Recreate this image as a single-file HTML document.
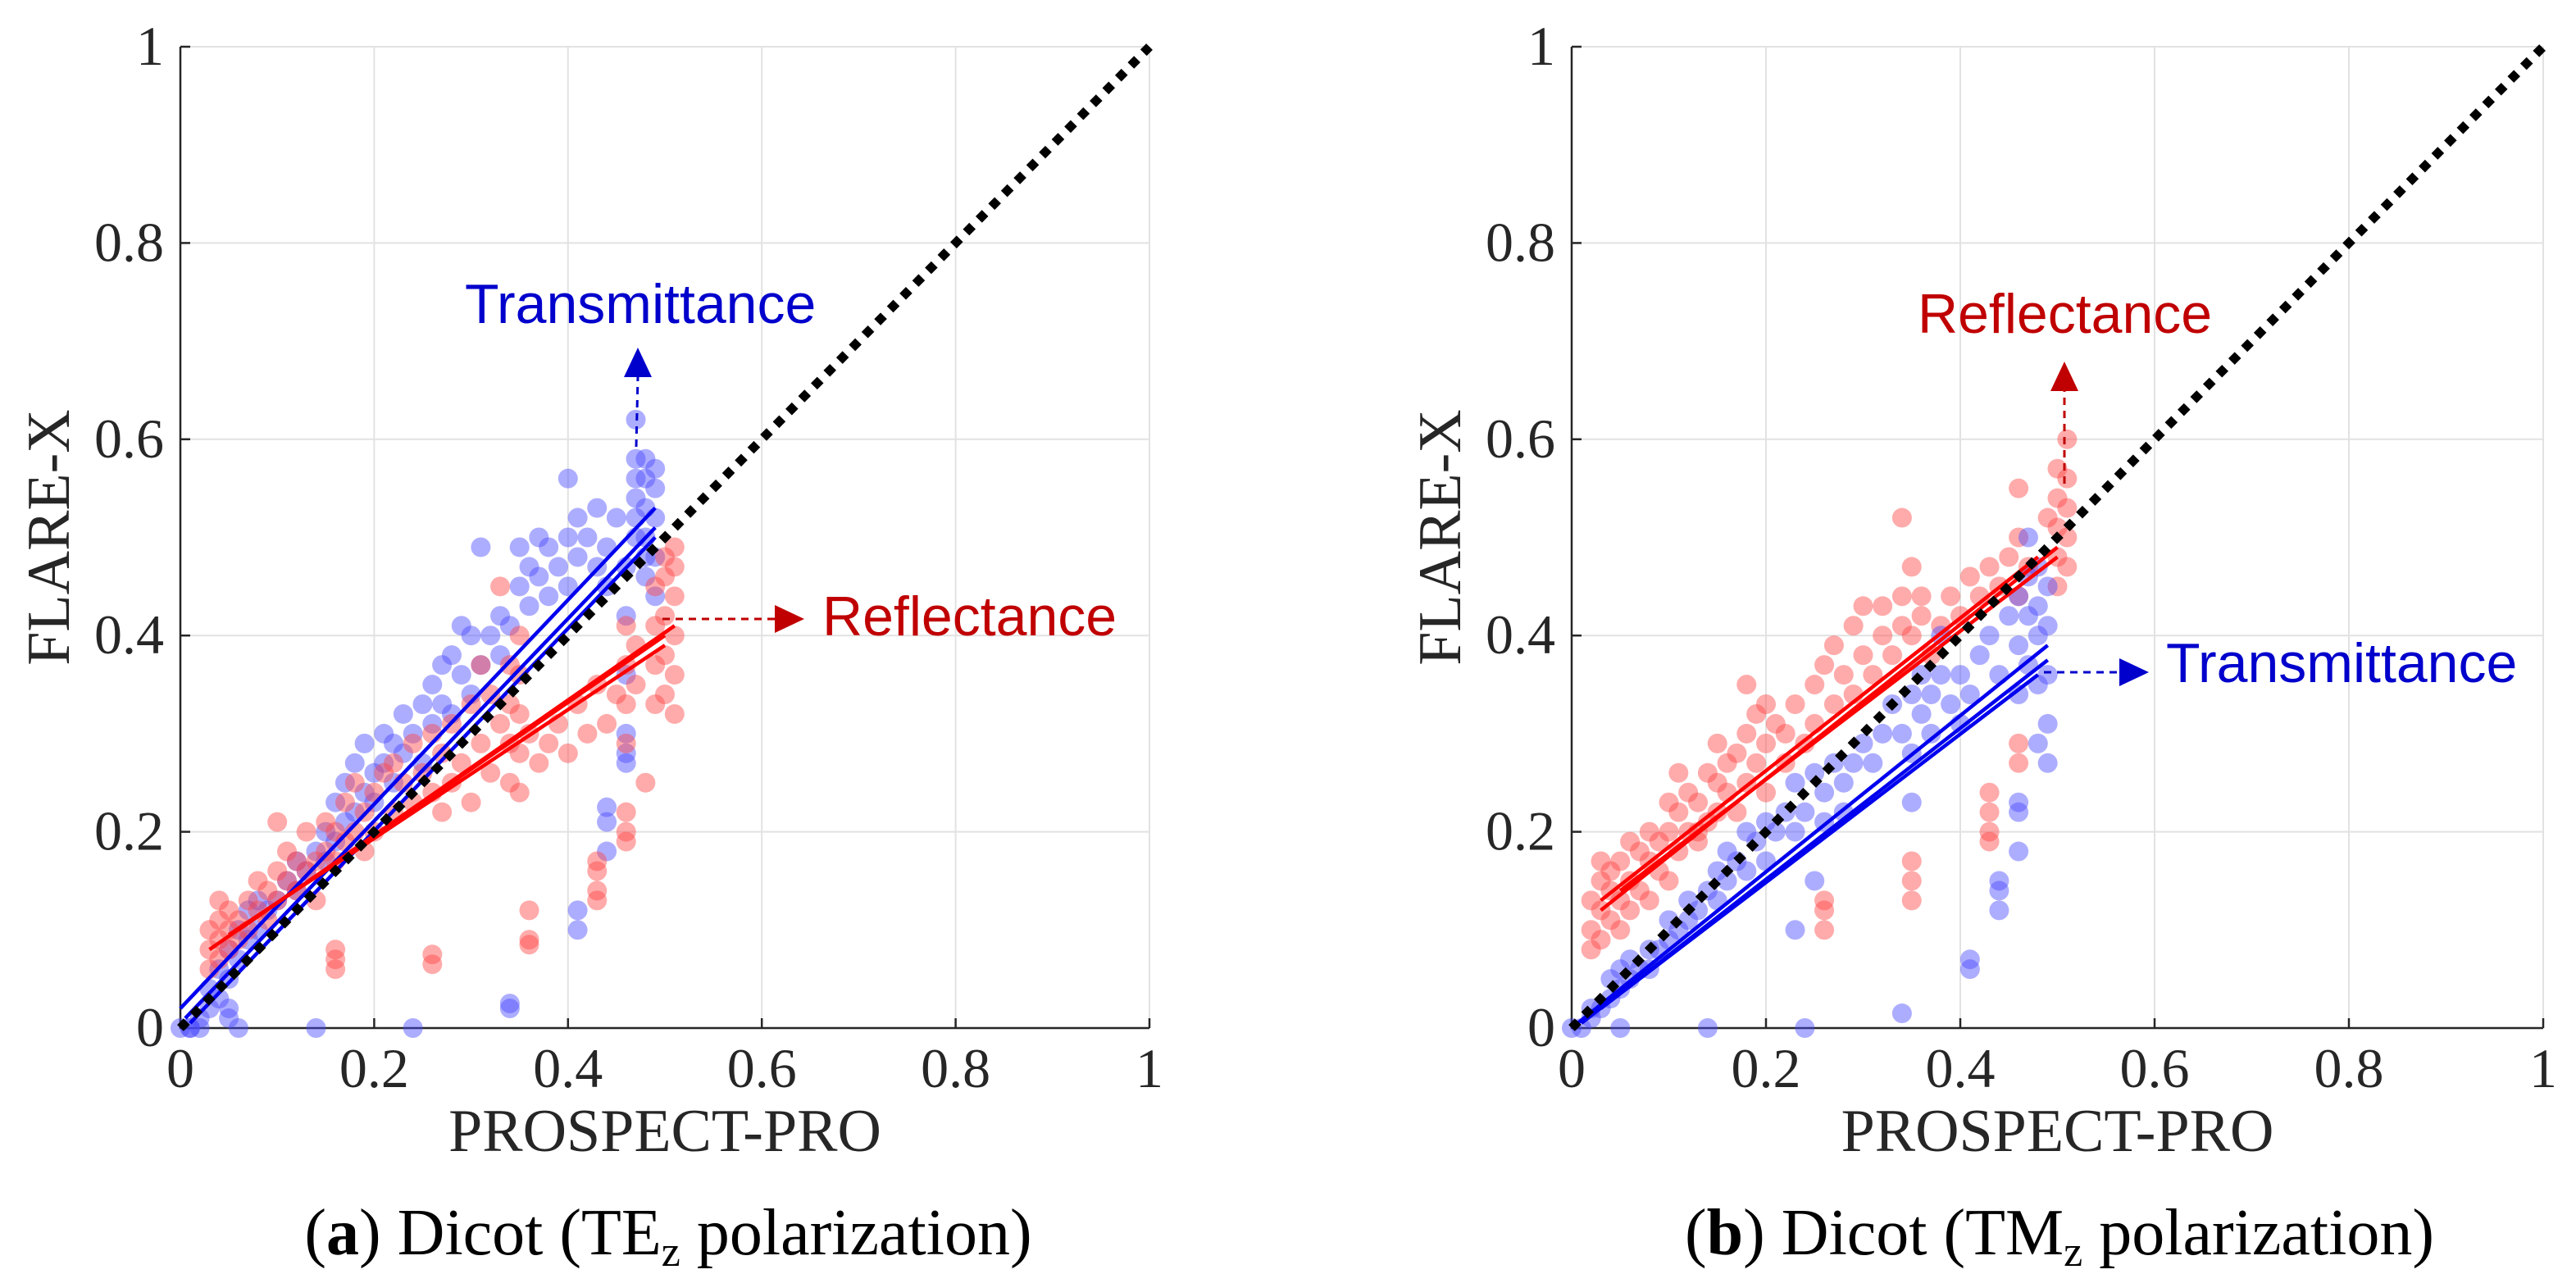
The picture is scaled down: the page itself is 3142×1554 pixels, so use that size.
<!DOCTYPE html>
<html><head><meta charset="utf-8">
<style>
body{margin:0;background:#fff;}
svg{display:block;}
</style></head>
<body>
<svg id="fig" width="3142" height="1554" viewBox="0 0 3142 1554" xmlns="http://www.w3.org/2000/svg">
<rect width="3142" height="1554" fill="#fff"/>
<g id="pa"></g>
<g id="pb"></g>
</svg>
<script>
const ticks=[0,0.2,0.4,0.6,0.8,1];
const tickLabels=["0","0.2","0.4","0.6","0.8","1"];
// Panel a (TEz) transmittance (blue)
const aTx=[0.01,0.02,0.02,0.03,0.03,0.04,0.04,0.05,0.05,0.06,0.06,0.07,0.07,0.08,0.08,0.09,0.05,0.05,0.1,0.11,0.12,0.12,0.13,0.14,0.15,0.15,0.16,0.16,0.17,0.17,0.18,0.18,0.19,0.19,0.2,0.2,0.21,0.21,0.22,0.22,0.23,0.23,0.24,0.25,0.25,0.26,0.26,0.27,0.27,0.28,0.28,0.29,0.3,0.3,0.31,0.29,0.31,0.32,0.33,0.33,0.34,0.35,0.35,0.36,0.36,0.37,0.37,0.38,0.38,0.39,0.4,0.4,0.4,0.41,0.41,0.42,0.43,0.43,0.44,0.44,0.45,0.46,0.46,0.46,0.46,0.47,0.47,0.47,0.47,0.48,0.48,0.48,0.48,0.48,0.49,0.49,0.49,0.49,0.49,0.47,0.48,0.47,0.06,0.14,0.24,0.34,0.34,0.41,0.41,0.44,0.44,0.44,0.46,0.46,0.0,0.01];
const aTy=[0.0,0.0,0.01,0.02,0.04,0.03,0.06,0.05,0.08,0.07,0.1,0.09,0.12,0.1,0.13,0.12,0.02,0.01,0.13,0.15,0.14,0.17,0.16,0.18,0.17,0.2,0.19,0.23,0.21,0.25,0.22,0.27,0.24,0.29,0.26,0.23,0.27,0.3,0.25,0.29,0.28,0.32,0.3,0.27,0.33,0.31,0.35,0.33,0.37,0.32,0.38,0.36,0.34,0.4,0.49,0.41,0.37,0.4,0.38,0.42,0.41,0.45,0.49,0.43,0.47,0.46,0.5,0.44,0.49,0.47,0.45,0.5,0.56,0.48,0.52,0.5,0.47,0.53,0.49,0.45,0.52,0.3,0.36,0.42,0.47,0.5,0.54,0.58,0.62,0.46,0.5,0.53,0.56,0.58,0.44,0.48,0.52,0.55,0.57,0.52,0.48,0.56,0.0,0.0,0.0,0.025,0.02,0.1,0.12,0.18,0.21,0.225,0.27,0.28,0.0,0.0];
// Panel a reflectance (red)
const aRx=[0.03,0.03,0.03,0.04,0.04,0.04,0.04,0.05,0.05,0.05,0.06,0.06,0.07,0.07,0.08,0.08,0.09,0.09,0.1,0.1,0.1,0.11,0.11,0.12,0.12,0.13,0.13,0.14,0.14,0.15,0.15,0.16,0.16,0.17,0.17,0.18,0.18,0.19,0.19,0.2,0.2,0.21,0.22,0.22,0.23,0.24,0.24,0.25,0.26,0.26,0.27,0.27,0.28,0.28,0.29,0.3,0.3,0.31,0.31,0.32,0.32,0.33,0.33,0.34,0.34,0.34,0.34,0.35,0.35,0.35,0.35,0.35,0.36,0.37,0.38,0.39,0.4,0.41,0.42,0.43,0.44,0.45,0.46,0.46,0.46,0.46,0.47,0.47,0.48,0.49,0.49,0.49,0.49,0.5,0.5,0.5,0.5,0.5,0.51,0.51,0.51,0.51,0.51,0.51,0.16,0.16,0.16,0.26,0.26,0.36,0.36,0.36,0.43,0.43,0.43,0.43,0.46,0.46,0.46];
const aRy=[0.06,0.08,0.1,0.07,0.09,0.11,0.13,0.08,0.1,0.12,0.09,0.11,0.1,0.13,0.12,0.15,0.11,0.14,0.13,0.16,0.21,0.15,0.18,0.14,0.17,0.16,0.2,0.17,0.13,0.18,0.21,0.17,0.2,0.19,0.23,0.2,0.25,0.22,0.18,0.24,0.2,0.26,0.22,0.27,0.25,0.23,0.29,0.26,0.24,0.3,0.28,0.22,0.25,0.31,0.27,0.23,0.33,0.29,0.37,0.26,0.34,0.31,0.45,0.25,0.29,0.33,0.37,0.24,0.28,0.32,0.36,0.4,0.3,0.27,0.29,0.31,0.28,0.33,0.3,0.35,0.31,0.34,0.29,0.33,0.37,0.41,0.35,0.39,0.25,0.33,0.37,0.41,0.45,0.34,0.38,0.42,0.46,0.48,0.32,0.36,0.4,0.44,0.47,0.49,0.06,0.07,0.08,0.065,0.075,0.085,0.09,0.12,0.13,0.14,0.16,0.17,0.19,0.2,0.22];
// Panel b (TMz) reflectance (red)
const bRx=[0.02,0.02,0.02,0.03,0.03,0.03,0.03,0.04,0.04,0.04,0.05,0.05,0.05,0.06,0.06,0.06,0.07,0.07,0.08,0.08,0.08,0.09,0.09,0.1,0.1,0.1,0.11,0.11,0.11,0.12,0.12,0.13,0.13,0.14,0.14,0.15,0.15,0.15,0.16,0.16,0.17,0.17,0.18,0.18,0.18,0.19,0.19,0.2,0.2,0.2,0.21,0.22,0.22,0.23,0.24,0.25,0.25,0.26,0.27,0.27,0.28,0.29,0.29,0.3,0.3,0.31,0.32,0.32,0.33,0.34,0.34,0.35,0.35,0.36,0.36,0.34,0.37,0.38,0.39,0.4,0.41,0.42,0.43,0.44,0.45,0.46,0.46,0.46,0.47,0.5,0.5,0.5,0.5,0.5,0.51,0.51,0.51,0.51,0.51,0.49,0.13,0.26,0.26,0.26,0.35,0.35,0.35,0.43,0.43,0.43,0.43,0.46,0.46];
const bRy=[0.08,0.1,0.13,0.09,0.12,0.15,0.17,0.11,0.14,0.16,0.1,0.13,0.17,0.12,0.15,0.19,0.14,0.18,0.13,0.17,0.2,0.16,0.19,0.15,0.2,0.23,0.18,0.22,0.26,0.2,0.24,0.19,0.23,0.21,0.26,0.22,0.25,0.29,0.24,0.27,0.22,0.28,0.25,0.3,0.35,0.27,0.32,0.24,0.29,0.33,0.31,0.27,0.3,0.33,0.29,0.35,0.31,0.37,0.33,0.39,0.36,0.34,0.41,0.38,0.43,0.36,0.4,0.43,0.38,0.41,0.44,0.4,0.47,0.42,0.44,0.52,0.38,0.41,0.44,0.42,0.46,0.44,0.47,0.45,0.48,0.44,0.5,0.55,0.47,0.45,0.48,0.51,0.54,0.57,0.47,0.5,0.53,0.56,0.6,0.52,0.2,0.1,0.12,0.13,0.13,0.15,0.17,0.19,0.2,0.22,0.24,0.27,0.29];
// Panel b transmittance (blue)
const bTx=[0.0,0.01,0.02,0.02,0.03,0.04,0.04,0.05,0.05,0.06,0.06,0.07,0.08,0.08,0.09,0.1,0.1,0.11,0.12,0.12,0.13,0.14,0.15,0.15,0.16,0.16,0.17,0.18,0.18,0.19,0.2,0.2,0.21,0.22,0.23,0.23,0.24,0.25,0.26,0.26,0.27,0.28,0.28,0.29,0.3,0.31,0.32,0.33,0.34,0.35,0.35,0.36,0.36,0.37,0.37,0.38,0.38,0.39,0.4,0.4,0.41,0.42,0.43,0.44,0.45,0.46,0.46,0.46,0.47,0.47,0.47,0.47,0.48,0.48,0.48,0.48,0.49,0.49,0.49,0.49,0.49,0.48,0.35,0.25,0.23,0.05,0.14,0.24,0.34,0.41,0.41,0.44,0.44,0.44,0.46,0.46,0.46];
const bTy=[0.0,0.0,0.01,0.02,0.02,0.03,0.05,0.04,0.06,0.05,0.07,0.06,0.08,0.06,0.08,0.09,0.11,0.1,0.11,0.13,0.12,0.14,0.13,0.16,0.15,0.18,0.17,0.16,0.2,0.19,0.21,0.17,0.2,0.22,0.2,0.25,0.22,0.26,0.24,0.21,0.27,0.22,0.25,0.27,0.29,0.27,0.3,0.33,0.3,0.34,0.28,0.32,0.36,0.34,0.3,0.36,0.4,0.33,0.36,0.31,0.34,0.38,0.4,0.36,0.42,0.34,0.39,0.44,0.37,0.42,0.46,0.5,0.35,0.4,0.43,0.47,0.27,0.31,0.36,0.41,0.45,0.29,0.23,0.15,0.1,0.0,0.0,0.0,0.015,0.06,0.07,0.12,0.14,0.15,0.18,0.22,0.23];
// Regression fits [x0,y0,x1,y1] (main + bounds)
const aTfit=[[0,0.02,0.49,0.53],[0.005,0.01,0.49,0.51],[0.01,0.005,0.49,0.5]];
const aRfit=[[0.03,0.08,0.5,0.4],[0.05,0.095,0.5,0.39],[0.06,0.1,0.51,0.41]];
const bRfit=[[0.03,0.12,0.5,0.49],[0.03,0.13,0.48,0.48],[0.05,0.14,0.5,0.48]];
const bTfit=[[0,0,0.49,0.39],[0.01,0.005,0.49,0.375],[0.03,0.02,0.48,0.36]];

const NS="http://www.w3.org/2000/svg";
function mk(parent,tag,attrs,text){const e=document.createElementNS(NS,tag);for(const k in attrs)e.setAttribute(k,attrs[k]);if(text!==undefined)e.textContent=text;parent.appendChild(e);return e;}
const Y0=1254,Y1=57;
function drawPanel(g,X0,X1,first,second,annots,caption){
  const sx=v=>X0+v*(X1-X0), sy=v=>Y0-v*(Y0-Y1);
  ticks.forEach((t,i)=>{
    const gl=mk(g,'line',{x1:sx(t),y1:Y1,x2:sx(t),y2:Y0,stroke:'#e2e2e2','stroke-width':2});
    
    
    const gh=mk(g,'line',{x1:X0,y1:sy(t),x2:X1,y2:sy(t),stroke:'#e2e2e2','stroke-width':2});
    
    
  });
  const ax=mk(g,'path',{d:`M${X0} ${Y1}V${Y0}H${X1}`,fill:'none',stroke:'#262626','stroke-width':2.5});
  
  
  ticks.forEach((t,i)=>{
    mk(g,'line',{x1:sx(t),y1:Y0,x2:sx(t),y2:Y0-12,stroke:'#262626','stroke-width':2.5});
    mk(g,'line',{x1:X0,y1:sy(t),x2:X0+12,y2:sy(t),stroke:'#262626','stroke-width':2.5});
    const xl=mk(g,'text',{x:sx(t),y:1326,'text-anchor':'middle','font-family':'Liberation Serif, serif','font-size':68,fill:'#262626'},tickLabels[i]);
    
    
    const yl=mk(g,'text',{x:X0-20,y:sy(t)+22,'text-anchor':'end','font-family':'Liberation Serif, serif','font-size':68,fill:'#262626'},tickLabels[i]);
    
    
  });
  const xt=mk(g,'text',{x:(X0+X1)/2,y:1404,'text-anchor':'middle','font-family':'Liberation Serif, serif','font-size':74,fill:'#262626'},'PROSPECT-PRO');
  
  
  const yt=mk(g,'text',{x:0,y:0,'text-anchor':'middle','font-family':'Liberation Serif, serif','font-size':74,fill:'#262626',transform:`translate(${X0-136},${(Y0+Y1)/2}) rotate(-90)`},'FLARE-X');
  
  
  [first,second].forEach(s=>{
    const sg=mk(g,'g',{});
    
    
    s.xs.forEach((x,i)=>{
      const c=mk(sg,'circle',{cx:sx(x),cy:sy(s.ys[i]),r:12,fill:s.fill,'fill-opacity':0.45});
      
      
    });
  });
  [first,second].forEach(s=>{
    s.fit.forEach(f=>{
      const l=mk(g,'line',{x1:sx(f[0]),y1:sy(f[1]),x2:sx(f[2]),y2:sy(f[3]),stroke:s.line,'stroke-width':4.5});
      
      
    });
  });
  const d=mk(g,'line',{x1:sx(0),y1:sy(0),x2:sx(1),y2:sy(1),stroke:'#000','stroke-width':11,'stroke-dasharray':'11 11'});
  
  
  annots.forEach(a=>{
    const t=mk(g,'text',{x:a.tx,y:a.ty,'font-family':'Liberation Sans, sans-serif','font-size':68,fill:a.color},a.label);
    
    
    const ar=mk(g,'line',{x1:a.x1,y1:a.y1,x2:a.x2,y2:a.y2,stroke:a.color,'stroke-width':3,'stroke-dasharray':'9 7'});
    
    
    let p;
    if(a.dir==='up') p=`M${a.x2-17} ${a.y2}L${a.x2+17} ${a.y2}L${a.x2} ${a.y2-36}Z`;
    else p=`M${a.x2} ${a.y2-17}L${a.x2} ${a.y2+17}L${a.x2+36} ${a.y2}Z`;
    mk(g,'path',{d:p,fill:a.color});
  });
  const cap=mk(g,'text',{x:caption.x,y:1530,'text-anchor':'middle','font-family':'Liberation Serif, serif','font-size':80,fill:'#000'});
  
  
  mk(cap,'tspan',{},'(');
  mk(cap,'tspan',{'font-weight':'bold'},caption.letter);
  mk(cap,'tspan',{},') Dicot ('+caption.pol);
  mk(cap,'tspan',{'font-size':52,dy:14},'z');
  mk(cap,'tspan',{dy:-14},' polarization)');
}
const blue='#4a4aff',red='#ff4545';
drawPanel(document.getElementById('pa'),220,1402,
  {name:'transmittance-points',xs:aTx,ys:aTy,fill:blue,line:'#0000ee',fit:aTfit},
  {name:'reflectance-points',xs:aRx,ys:aRy,fill:red,line:'#ff0000',fit:aRfit},
  [{name:'transmittance',label:'Transmittance',color:'#0000cc',tx:567,ty:394,x1:776,y1:545,x2:778,y2:460,dir:'up'},
   {name:'reflectance',label:'Reflectance',color:'#c00000',tx:1003,ty:775,x1:808,y1:755,x2:945,y2:755,dir:'right'}],
  {x:815,letter:'a',pol:'TE'});
drawPanel(document.getElementById('pb'),1917,3102,
  {name:'reflectance-points',xs:bRx,ys:bRy,fill:red,line:'#ff0000',fit:bRfit},
  {name:'transmittance-points',xs:bTx,ys:bTy,fill:blue,line:'#0000ee',fit:bTfit},
  [{name:'reflectance',label:'Reflectance',color:'#c00000',tx:2339,ty:406,x1:2518,y1:590,x2:2518,y2:477,dir:'up'},
   {name:'transmittance',label:'Transmittance',color:'#0000cc',tx:2642,ty:832,x1:2493,y1:820,x2:2585,y2:820,dir:'right'}],
  {x:2512,letter:'b',pol:'TM'});
</script>
</body></html>
